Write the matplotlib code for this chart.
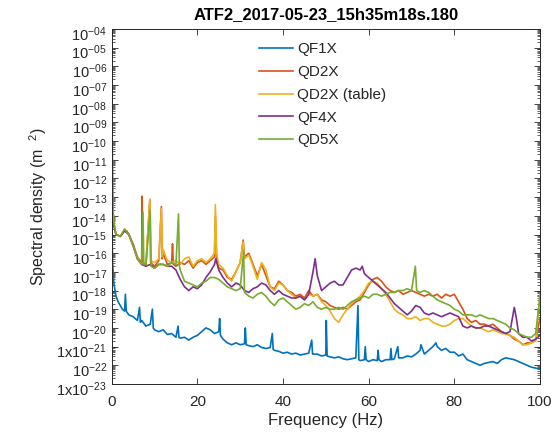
import numpy as np
import matplotlib
matplotlib.use("Agg")
import matplotlib.pyplot as plt
from matplotlib.ticker import LogLocator, NullFormatter
from matplotlib.transforms import ScaledTranslation

# (frequency Hz, log10 spectral density)
qf1x = [(0, -13.5), (0.2, -16.5), (0.5, -17.6), (1, -18.3), (1.5, -18.6), (2, -18.8), (2.5, -19.0),
        (3, -19.1), (3.2, -18.2), (3.4, -19.1), (4, -19.3), (5, -19.4), (6, -19.6), (6.5, -18.9),
        (6.7, -19.7), (7, -19.6), (8, -19.9), (9, -19.8), (9.5, -19.0), (9.7, -20.0), (10, -20.1),
        (11, -20.2), (12, -20.1), (13, -20.35), (14, -20.3), (15, -20.5), (15.5, -19.9), (15.7, -20.5),
        (16, -20.55), (17, -20.5), (18, -20.65), (19, -20.5), (20, -20.4), (21, -20.2), (22, -20.0),
        (23, -20.1), (24, -20.3), (25, -20.2), (25.2, -19.5), (25.4, -20.4), (26, -20.6), (27, -20.8),
        (28, -20.9), (29, -20.8), (30, -20.9), (31, -20.85), (31.2, -20.0), (31.4, -20.9), (32, -20.95),
        (33, -21.0), (34, -20.9), (35, -21.05), (36, -21.1), (37, -21.05), (37.5, -20.3), (37.7, -21.15),
        (38, -21.2), (39, -21.25), (40, -21.35), (41, -21.3), (42, -21.4), (43, -21.35), (44, -21.45),
        (45, -21.4), (46, -21.35), (46.7, -20.65), (46.9, -21.4), (48, -21.4), (49, -21.5), (50, -21.45),
        (50.1, -19.6), (50.3, -21.5), (51, -21.55), (52, -21.6), (53, -21.55), (54, -21.65), (55, -21.7),
        (56, -21.65), (57, -21.6), (57.5, -18.8), (57.7, -21.7), (58, -21.75), (59, -21.7), (59.2, -21.0),
        (59.4, -21.7), (60, -21.8), (61, -21.7), (62, -21.75), (62.2, -21.2), (62.4, -21.7), (63, -21.8),
        (64, -21.7), (65, -21.7), (65.2, -21.1), (65.4, -21.7), (66, -21.65), (66.8, -21.0), (67, -21.6),
        (68, -21.6), (69, -21.5), (70, -21.55), (71, -21.4), (72, -21.2), (72.2, -20.9), (73, -21.4),
        (74, -21.2), (75, -21.0), (75.7, -20.8), (76, -21.0), (77, -21.2), (78, -21.1), (79, -21.3),
        (80, -21.3), (81, -21.5), (82, -21.4), (83, -21.7), (84, -21.8), (85, -21.9), (86, -22.0),
        (87, -21.9), (88, -21.85), (89, -21.8), (90, -21.9), (91, -21.7), (92, -21.6), (93, -21.65),
        (94, -21.7), (95, -21.8), (96, -21.9), (97, -22.0), (98, -22.1), (99, -22.15), (100, -22.2)]

qd2x = [(0, -8.0), (0.2, -13.5), (0.5, -14.5), (1, -15.0), (2, -15.1), (3, -14.8), (3.5, -14.8),
        (4, -15.0), (5, -15.5), (6, -16.2), (7, -16.5), (7.1, -12.95), (7.3, -16.5), (8, -16.6),
        (8.9, -13.15), (9.1, -16.5), (10, -16.7), (11, -16.4), (11.6, -13.5), (11.8, -16.3), (12, -16.0),
        (13, -16.6), (14, -16.5), (14.2, -15.5), (14.4, -16.6), (15, -16.7), (16, -16.5), (17, -16.6),
        (18, -16.4), (19, -16.8), (20, -16.5), (21, -16.4), (22, -16.6), (23, -16.4), (24, -16.2),
        (24.2, -14.0), (24.5, -16.3), (25, -16.8), (26, -16.9), (27, -17.3), (28, -17.4), (29, -17.0),
        (30, -16.5), (30.7, -15.3), (31, -16.2), (32, -16.0), (33, -16.6), (34, -17.2), (35, -16.6),
        (36, -17.2), (37, -17.8), (38, -17.9), (39, -17.5), (40, -17.7), (41, -18.0), (42, -18.1),
        (43, -18.3), (44, -18.2), (45, -18.4), (46, -18.0), (47, -18.3), (48, -18.2), (49, -18.5),
        (50, -18.6), (51, -18.8), (52, -18.9), (53, -19.0), (54, -18.9), (55, -19.0), (56, -18.8),
        (57, -18.6), (58, -18.5), (59, -18.1), (60, -17.7), (61, -17.4), (62, -17.3), (63, -17.5),
        (64, -17.8), (65, -18.0), (66, -18.1), (67, -18.0), (68, -18.2), (69, -18.1), (70, -18.0),
        (71, -18.1), (72, -18.2), (73, -18.3), (74, -18.2), (75, -18.3), (76, -18.2), (77, -18.4),
        (78, -18.2), (79, -18.3), (80, -18.2), (81, -18.6), (82, -19.0), (83, -19.5), (84, -19.7),
        (85, -19.6), (86, -19.8), (87, -19.8), (88, -19.9), (89, -19.8), (90, -20.0), (91, -20.2),
        (92, -20.3), (93, -20.4), (94, -20.6), (95, -20.7), (96, -20.9), (97, -20.8), (98, -20.8),
        (99, -20.6), (100, -19.5)]

qd2x_table = [(0, -7.0), (0.2, -13.3), (0.5, -14.4), (1, -15.0), (2, -15.1), (3, -14.8), (4, -15.0),
              (5, -15.6), (6, -16.2), (7, -16.6), (8, -16.5), (8.9, -13.1), (9.1, -16.4), (10, -16.5),
              (11, -16.3), (11.6, -13.6), (11.8, -16.2), (12, -15.8), (13, -16.4), (14, -16.5),
              (15, -16.4), (16, -16.6), (17, -16.3), (18, -16.2), (19, -16.7), (20, -16.4), (21, -16.3),
              (22, -16.5), (23, -16.3), (24, -16.0), (24.2, -13.4), (24.5, -16.0), (25, -16.6),
              (26, -16.8), (27, -17.2), (28, -17.5), (29, -17.0), (30, -16.5), (30.7, -15.4), (31, -16.3),
              (32, -16.1), (33, -16.7), (34, -17.4), (35, -16.5), (36, -16.9), (37, -17.8), (38, -18.0),
              (39, -17.6), (40, -17.7), (41, -18.0), (42, -18.2), (43, -18.4), (44, -18.3), (45, -18.5),
              (46, -18.2), (47, -18.3), (48, -18.2), (49, -18.6), (50, -18.8), (51, -19.1), (52, -19.5),
              (53, -19.7), (54, -19.3), (55, -19.0), (56, -18.7), (57, -18.5), (58, -18.3), (59, -18.0),
              (60, -17.6), (61, -17.5), (62, -17.6), (63, -17.9), (64, -18.2), (65, -18.6), (66, -19.0),
              (67, -19.2), (68, -19.3), (69, -19.5), (70, -19.5), (71, -19.4), (72, -19.6), (73, -19.5),
              (74, -19.5), (75, -19.7), (76, -19.8), (77, -19.9), (78, -19.9), (79, -19.8), (80, -19.6),
              (81, -19.5), (82, -19.5), (83, -19.7), (84, -19.9), (85, -20.0), (86, -20.0), (87, -20.1),
              (88, -20.2), (89, -20.1), (90, -20.2), (91, -20.3), (92, -20.3), (93, -20.4), (94, -20.5),
              (95, -20.7), (96, -20.9), (97, -20.9), (98, -20.8), (99, -20.7), (100, -18.2)]

qf4x = [(0, -5.1), (0.2, -13.3), (0.5, -14.5), (1, -15.0), (2, -15.1), (3, -14.8), (4, -15.0),
        (5, -15.6), (6, -16.3), (7, -16.6), (8, -16.7), (9, -16.6), (10, -16.8), (11, -16.6),
        (12, -16.6), (13, -16.7), (14, -16.7), (15, -16.9), (16, -17.4), (17, -17.8), (18, -18.0),
        (19, -17.8), (20, -17.9), (21, -17.7), (22, -17.3), (23, -17.0), (24, -16.6), (24.3, -16.3),
        (25, -16.9), (26, -17.3), (27, -17.6), (28, -17.8), (29, -17.6), (30, -17.7), (31, -18.0),
        (32, -18.1), (33, -17.9), (34, -17.8), (35, -17.6), (36, -17.7), (37, -18.0), (38, -18.2),
        (39, -18.0), (40, -18.2), (41, -18.3), (42, -18.4), (43, -18.4), (44, -18.3), (45, -18.5),
        (46, -18.2), (47, -17.0), (47.5, -16.3), (48, -17.2), (49, -18.0), (50, -17.8), (51, -17.6),
        (52, -17.5), (53, -17.7), (54, -17.7), (55, -17.3), (56, -16.9), (57, -16.8), (58, -16.9),
        (58.5, -16.7), (59, -17.1), (60, -17.3), (61, -17.5), (62, -17.7), (63, -17.9), (64, -18.1),
        (65, -18.4), (66, -18.7), (67, -18.9), (68, -19.1), (69, -19.3), (70, -19.1), (71, -18.8),
        (72, -18.9), (73, -19.2), (74, -19.3), (75, -19.2), (76, -19.3), (77, -19.4), (78, -19.3),
        (79, -19.2), (80, -19.3), (81, -19.4), (82, -19.9), (83, -20.0), (84, -19.9), (85, -20.0),
        (86, -20.0), (87, -19.9), (88, -19.9), (89, -20.0), (90, -20.1), (91, -20.2), (92, -20.3),
        (93, -20.2), (94, -18.9), (94.5, -19.5), (95, -20.3), (96, -20.5), (97, -20.5), (98, -20.7),
        (99, -20.6), (100, -20.4)]

qd5x = [(0, -6.1), (0.2, -13.2), (0.5, -14.3), (1, -15.0), (2, -15.1), (3, -14.7), (4, -15.0),
        (5, -15.6), (6, -16.3), (7, -16.6), (7.3, -13.8), (7.5, -16.6), (8, -16.6), (9, -13.7),
        (9.2, -16.7), (10, -16.8), (11, -16.6), (12, -16.6), (13, -16.7), (14, -16.5), (15, -16.6),
        (15.6, -13.9), (15.8, -16.7), (16, -16.9), (17, -17.5), (18, -17.6), (19, -17.7), (20, -17.8),
        (21, -17.6), (22, -17.5), (23, -17.3), (24, -17.3), (25, -17.4), (26, -17.6), (27, -17.8),
        (28, -17.9), (29, -18.0), (30, -17.9), (30.8, -15.9), (31, -18.1), (32, -18.3), (33, -18.4),
        (34, -18.2), (35, -18.1), (36, -18.3), (37, -18.6), (38, -18.8), (39, -18.5), (40, -18.4),
        (41, -18.6), (42, -18.8), (43, -19.0), (44, -18.9), (45, -18.7), (46, -18.8), (47, -18.6),
        (48, -18.9), (49, -19.0), (50, -18.9), (51, -19.0), (52, -19.0), (53, -18.9), (54, -19.0),
        (55, -18.8), (56, -18.6), (57, -18.5), (58, -18.4), (59, -18.3), (60, -18.4), (61, -18.2),
        (62, -18.2), (63, -18.3), (64, -18.2), (65, -18.1), (66, -18.1), (67, -18.0), (68, -18.0),
        (69, -17.9), (70, -18.0), (70.9, -16.7), (71.2, -18.0), (72, -18.1), (73, -18.0), (74, -18.1),
        (75, -18.3), (76, -18.5), (77, -18.6), (78, -18.7), (79, -18.8), (80, -19.0), (81, -19.1),
        (82, -19.3), (83, -19.3), (84, -19.3), (85, -19.4), (86, -19.3), (87, -19.4), (88, -19.5),
        (89, -19.5), (90, -19.6), (91, -19.7), (92, -19.8), (93, -20.0), (94, -20.1), (95, -20.3),
        (96, -20.4), (97, -20.5), (98, -20.5), (99, -20.3), (100, -18.3)]

series_names = ['QF1X', 'QD2X', 'QD2X (table)', 'QF4X', 'QD5X']
series_colors = ['#0072BD', '#D95319', '#EDB120', '#7E2F8E', '#77AC30']
ytick_exp = list(range(-23, -3))
ytick_labels = [r'$1\mathrm{x}10^{-23}$', r'$10^{-22}$', r'$1\mathrm{x}10^{-21}$'] + \
               [r'$10^{%d}$' % e for e in range(-20, -9)] + \
               [r'$10^{-0%d}$' % -e for e in range(-9, -3)]
xtick_vals = [0, 20, 40, 60, 80, 100]

plt.rcParams['font.family'] = ['Liberation Sans', 'DejaVu Sans']
plt.rcParams['mathtext.fontset'] = 'custom'
plt.rcParams['mathtext.rm'] = 'Liberation Sans'
plt.rcParams['mathtext.it'] = 'Liberation Sans:italic'
plt.rcParams['mathtext.bf'] = 'Liberation Sans:bold'

grey = '#262626'
fig = plt.figure(figsize=(5.56, 4.33), dpi=100)
ax = fig.add_axes([0.2009, 0.1132, 0.7703, 0.8199])

for data, name, col in zip([qf1x, qd2x, qd2x_table, qf4x, qd5x], series_names, series_colors):
    f = np.array([p[0] for p in data])
    v = 10.0 ** np.array([p[1] for p in data])
    ax.plot(f, v, color=col, lw=1.2, label=name)

ax.set_yscale('log')
ax.set_xlim(0, 100)
ax.set_ylim(1e-23, 1e-4)
ax.set_yticks([10.0 ** e for e in ytick_exp])
ax.set_yticklabels(ytick_labels)
ax.yaxis.set_minor_locator(LogLocator(base=10, subs=np.arange(2, 10), numticks=100))
ax.yaxis.set_minor_formatter(NullFormatter())
ax.set_xticks(xtick_vals)
ax.set_xticklabels([str(x) for x in xtick_vals])

ax.tick_params(which='both', direction='in', top=True, right=True, colors=grey)
ax.tick_params(axis='y', labelsize=10.5, pad=3.5)
ax.tick_params(axis='x', labelsize=11, pad=8)
ax.tick_params(which='major', length=4, width=0.6)
ax.tick_params(which='minor', length=2, width=0.5)
for s in ax.spines.values():
    s.set_color(grey)
    s.set_linewidth(0.7)

# MATLAB puts the exponent level with the tick, the base below it
shift = ScaledTranslation(0, -4 / 100, fig.dpi_scale_trans)
for lab in ax.get_yticklabels():
    lab.set_transform(lab.get_transform() + shift)

ax.set_xlabel('Frequency (Hz)', fontsize=12, color=grey, labelpad=3)
ax.set_ylabel(r'Spectral density (m  $^{2}$)', fontsize=11.5, color=grey, labelpad=5)
ax.set_title('ATF2_2017-05-23_15h35m18s.180', fontsize=12, fontweight='bold', pad=7)

leg = ax.legend(loc='upper left', bbox_to_anchor=(0.344, 0.962), frameon=False, fontsize=11,
                handlelength=2.2, handletextpad=0.3, labelspacing=0.57, borderpad=0, borderaxespad=0)
for t in leg.get_texts():
    t.set_color(grey)

fig.savefig('out.png', dpi=100)
